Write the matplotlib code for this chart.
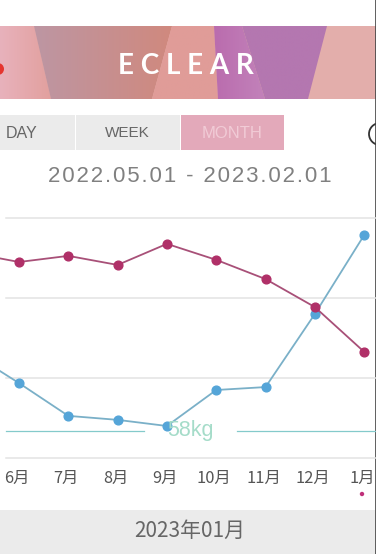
"""ECLEAR app screenshot: monthly weight chart."""

import numpy as np
import matplotlib.pyplot as plt
from matplotlib.colors import to_rgb
from matplotlib.patches import Polygon, Rectangle, Circle
from matplotlib.transforms import ScaledTranslation

W, H = 376, 554

months = ["5月", "6月", "7月", "8月", "9月", "10月", "11月", "12月", "1月"]
weight = [60.98, 59.81, 58.58, 58.43, 58.20, 59.55, 59.66, 62.40, 65.36]
other = [64.70, 64.35, 64.58, 64.24, 65.03, 64.43, 63.71, 62.66, 60.98]
grid_levels = [57, 60, 63, 66]
target_kg = 58.03
tabs = ["DAY", "WEEK", "MONTH"]
date_range = "2022.05.01 - 2023.02.01"
footer = "2023年01月"

plt.rcParams["font.family"] = ["Liberation Sans", "DejaVu Sans"]
CJK = ["Noto Sans CJK JP", "DejaVu Sans"]

fig = plt.figure(figsize=(W / 100, H / 100), dpi=100, facecolor="white")

# page furniture, in pixel coordinates
bg = fig.add_axes([0, 0, 1, 1])
bg.set_xlim(0, W)
bg.set_ylim(H, 0)
bg.axis("off")


def gradient_poly(pts, c0, c1):
    """Polygon filled with a left-to-right gradient."""
    poly = Polygon(pts, closed=True, facecolor="none", edgecolor="none")
    bg.add_patch(poly)
    xs = [p[0] for p in pts]
    ys = [p[1] for p in pts]
    c0 = np.array(to_rgb(c0))
    c1 = np.array(to_rgb(c1))
    t = np.linspace(0, 1, 128)[None, :, None]
    img = bg.imshow(c0 + (c1 - c0) * t, extent=[min(xs), max(xs), max(ys), min(ys)],
                    aspect="auto", interpolation="bilinear", zorder=1)
    img.set_clip_path(poly)


bg.add_patch(Rectangle((0, 26), W, 73, color="#e3aeab", lw=0, zorder=0.5))
gradient_poly([(0, 26), (34, 26), (51, 99), (0, 99)], "#e8b2bc", "#e2a09e")
gradient_poly([(34, 26), (172, 26), (152, 99), (51, 99)], "#bd96a3", "#d0897e")
gradient_poly([(172, 26), (214, 26), (218, 99), (152, 99)], "#e09c98", "#e09c98")
gradient_poly([(214, 26), (242, 26), (265, 99), (218, 99)], "#ba6cae", "#c282ba")
gradient_poly([(242, 26), (327, 26), (308, 99), (265, 99)], "#b477b0", "#b477b0")
bg.add_patch(Circle((-2, 69), 6, color="#e5352f", lw=0, zorder=2))
bg.text(186, 66, "E C L E A R", color="white", fontsize=20, family="Lato",
        fontweight="bold", ha="center", va="center", zorder=3)

bg.add_patch(Rectangle((0, 115), 74.5, 35, color="#ebebeb", lw=0))
bg.add_patch(Rectangle((76, 115), 104, 35, color="#ebebeb", lw=0))
bg.add_patch(Rectangle((180.5, 115), 103.5, 35, color="#e3a9ba", lw=0))
for name, cx, col, fs in zip(tabs, [22, 127, 232], ["#666666", "#666666", "#f1cbd6"], [11.5, 11, 12]):
    bg.text(cx, 133, name, color=col, fontsize=fs, ha="center", va="center")
bg.add_patch(Circle((380, 134), 11, facecolor="none", edgecolor="#333333", lw=1.3))

bg.text(189.5, 176, "\u200a".join(date_range), color="#808080", fontsize=16,
        ha="center", va="center")

bg.add_patch(Rectangle((0, 510), W, 44, color="#ebebeb", lw=0))
bg.text(190, 531, footer, color="#666666", fontsize=15, family=CJK,
        ha="center", va="center")
bg.add_patch(Circle((362, 494), 2.2, color="#c0307a", lw=0))
bg.plot([375.5, 375.5], [0, H], color="#444444", lw=1.2, zorder=5)
bg.set_xlim(0, W)
bg.set_ylim(H, 0)

# the chart itself
ax = fig.add_axes([0, (H - 458) / H, 1, (458 - 218) / H])
ax.patch.set_alpha(0)
for s in ax.spines.values():
    s.set_visible(False)

for v in grid_levels:
    ax.axhline(v, xmin=6 / W, color="#e3e3e3", lw=1.1, zorder=1, clip_on=False)
ax.axhline(target_kg, xmin=6 / W, xmax=144 / W, color="#84cacb", lw=0.9, zorder=2)
ax.axhline(target_kg, xmin=237 / W, color="#84cacb", lw=0.9, zorder=2)

x = np.arange(len(months))
ax.plot(x, weight, color="#7ab0c8", lw=1.3, marker="o", ms=6.3,
        mfc="#55a5d8", mec="#55a5d8", zorder=3)
ax.plot(x, other, color="#a85078", lw=1.3, marker="o", ms=6.3,
        mfc="#b03068", mec="#b03068", zorder=4)

ax.text(4.47, target_kg, "58kg", color="#a5dcc9", fontsize=15.5,
        ha="center", va="center", zorder=5)

ax.set_xticks(x)
ax.set_xticklabels(months, family=CJK, fontsize=11.8, color="#555555")
ax.set_yticks([])
ax.tick_params(axis="x", length=0, pad=8.5)
shift = ScaledTranslation(-2 / 100, 0, fig.dpi_scale_trans)
for lab in ax.get_xticklabels():
    lab.set_transform(lab.get_transform() + shift)
ax.set_xlim(0.615, 8.24)
ax.set_ylim(57, 66)

fig.savefig("out.png", dpi=100)
